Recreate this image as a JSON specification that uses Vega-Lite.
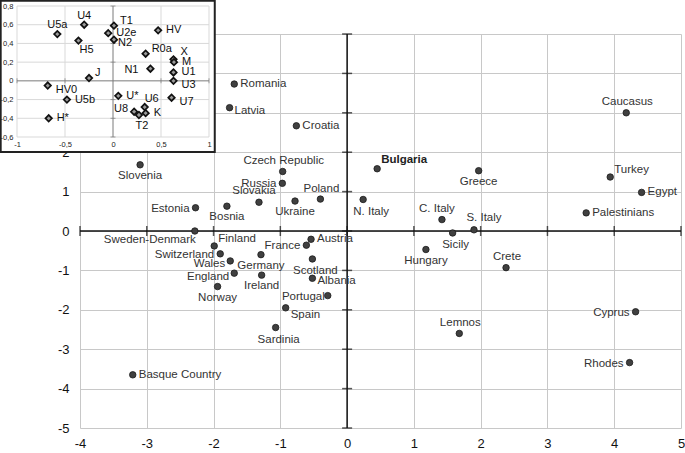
{
  "$schema": "https://vega.github.io/schema/vega-lite/v6.json",
  "width": 601,
  "height": 394,
  "autosize": {"type": "none"},
  "padding": {"left": 80, "top": 34, "right": 4, "bottom": 25},
  "background": "white",
  "config": {"view": {"stroke": null}, "font": "Liberation Sans", "axis": {"labelOverlap": false, "labelFlush": false}},
  "datasets": {
    "main": [
      {"name": "Romania", "x": -1.69, "y": 3.73},
      {"name": "Latvia", "x": -1.76, "y": 3.13},
      {"name": "Croatia", "x": -0.76, "y": 2.67},
      {"name": "Caucasus", "x": 4.18, "y": 3.0},
      {"name": "Slovenia", "x": -3.1, "y": 1.68},
      {"name": "Czech Republic", "x": -0.965, "y": 1.51},
      {"name": "Russia", "x": -0.97, "y": 1.21},
      {"name": "Bulgaria", "x": 0.45, "y": 1.58},
      {"name": "Greece", "x": 1.97, "y": 1.53},
      {"name": "Turkey", "x": 3.94, "y": 1.37},
      {"name": "Egypt", "x": 4.41, "y": 0.98},
      {"name": "Palestinians", "x": 3.58, "y": 0.46},
      {"name": "Estonia", "x": -2.27, "y": 0.59},
      {"name": "Bosnia", "x": -1.8, "y": 0.63},
      {"name": "Slovakia", "x": -1.32, "y": 0.73},
      {"name": "Ukraine", "x": -0.78, "y": 0.76},
      {"name": "Poland", "x": -0.4, "y": 0.81},
      {"name": "N. Italy", "x": 0.24, "y": 0.8},
      {"name": "C. Italy", "x": 1.42, "y": 0.29},
      {"name": "S. Italy", "x": 1.9, "y": 0.03},
      {"name": "Sicily", "x": 1.58, "y": -0.05},
      {"name": "Sweden-Denmark", "x": -2.28, "y": 0.0},
      {"name": "Finland", "x": -1.99, "y": -0.38},
      {"name": "Switzerland", "x": -1.9, "y": -0.58},
      {"name": "Wales", "x": -1.75, "y": -0.76},
      {"name": "England", "x": -1.69, "y": -1.07},
      {"name": "Norway", "x": -1.94, "y": -1.41},
      {"name": "Germany", "x": -1.29, "y": -0.6},
      {"name": "Ireland", "x": -1.28, "y": -1.12},
      {"name": "France", "x": -0.61, "y": -0.36},
      {"name": "Austria", "x": -0.54, "y": -0.21},
      {"name": "Scotland", "x": -0.52, "y": -0.71},
      {"name": "Albania", "x": -0.52, "y": -1.2},
      {"name": "Portugal", "x": -0.29, "y": -1.64},
      {"name": "Spain", "x": -0.92, "y": -1.95},
      {"name": "Sardinia", "x": -1.07, "y": -2.45},
      {"name": "Basque Country", "x": -3.21, "y": -3.65},
      {"name": "Hungary", "x": 1.18, "y": -0.47},
      {"name": "Crete", "x": 2.38, "y": -0.93},
      {"name": "Lemnos", "x": 1.68, "y": -2.6},
      {"name": "Cyprus", "x": 4.32, "y": -2.05},
      {"name": "Rhodes", "x": 4.23, "y": -3.34}
    ],
    "inset": [
      {"name": "U5a", "x": -0.58, "y": 0.5},
      {"name": "U4", "x": -0.3, "y": 0.6},
      {"name": "H5", "x": -0.36, "y": 0.43},
      {"name": "T1", "x": 0.01, "y": 0.59},
      {"name": "U2e", "x": -0.05, "y": 0.51},
      {"name": "N2", "x": 0.01, "y": 0.44},
      {"name": "HV", "x": 0.47, "y": 0.54},
      {"name": "R0a", "x": 0.34, "y": 0.29},
      {"name": "X", "x": 0.63, "y": 0.23},
      {"name": "M", "x": 0.635, "y": 0.2},
      {"name": "N1", "x": 0.39, "y": 0.13},
      {"name": "U1", "x": 0.63, "y": 0.09},
      {"name": "U3", "x": 0.63, "y": 0.0},
      {"name": "U7", "x": 0.61, "y": -0.18},
      {"name": "J", "x": -0.25, "y": 0.03},
      {"name": "HV0", "x": -0.68, "y": -0.05},
      {"name": "U5b", "x": -0.48, "y": -0.2},
      {"name": "H*", "x": -0.67, "y": -0.4},
      {"name": "U*", "x": 0.055, "y": -0.16},
      {"name": "U6", "x": 0.33, "y": -0.28},
      {"name": "U8", "x": 0.22, "y": -0.33},
      {"name": "T2", "x": 0.27, "y": -0.365},
      {"name": "K", "x": 0.34, "y": -0.345}
    ],
    "xt": [{"v": -4}, {"v": -3}, {"v": -2}, {"v": -1}, {"v": 0}, {"v": 1}, {"v": 2}, {"v": 3}, {"v": 4}, {"v": 5}],
    "yt": [{"v": -5}, {"v": -4}, {"v": -3}, {"v": -2}, {"v": -1}, {"v": 0}, {"v": 1}, {"v": 2}, {"v": 3}, {"v": 4}, {"v": 5}],
    "igx": [{"v": -1}, {"v": -0.5}, {"v": 0.5}, {"v": 1}],
    "igy": [{"v": -0.6}, {"v": -0.4}, {"v": -0.2}, {"v": 0.2}, {"v": 0.4}, {"v": 0.6}, {"v": 0.8}],
    "frame": [{"x1": -1.17, "x2": 1.06, "y1": -0.76, "y2": 0.855}],
    "one": [{}]
  },
  "layer": [
    {
      "layer": [
        {
          "data": {"name": "one"},
          "mark": {"type": "rule", "color": "#111", "strokeWidth": 1.5},
          "encoding": {
            "x": {"datum": 0, "type": "quantitative", "title": null,
              "scale": {"domain": [-4, 5], "nice": false, "zero": false},
              "axis": {"orient": "bottom", "values": [-4, -3, -2, -1, 0, 1, 2, 3, 4, 5], "tickCount": 20, "grid": true, "gridColor": "#c8c8c8", "gridWidth": 1, "domain": false, "ticks": false, "labelFontSize": 13, "labelColor": "#111", "labelPadding": 9, "labelFlush": false, "labelOverlap": false, "labelExpr": "'' + datum.value", "title": null, "zindex": 0}}
          }
        },
        {
          "data": {"name": "one"},
          "mark": {"type": "rule", "color": "#111", "strokeWidth": 1.5},
          "encoding": {
            "y": {"datum": 0, "type": "quantitative", "title": null,
              "scale": {"domain": [-5, 5], "nice": false, "zero": false},
              "axis": {"orient": "left", "values": [-5, -4, -3, -2, -1, 0, 1, 2, 3, 4, 5], "tickCount": 20, "grid": true, "gridColor": "#c8c8c8", "gridWidth": 1, "domain": false, "ticks": false, "labelFontSize": 13, "labelColor": "#111", "labelPadding": 11, "labelFlush": false, "labelOverlap": false, "labelExpr": "'' + datum.value", "title": null, "zindex": 0}}
          }
        },
        {
          "data": {"name": "xt"},
          "mark": {"type": "tick", "orient": "vertical", "color": "#111", "size": 10, "thickness": 1.5},
          "encoding": {
            "x": {"field": "v", "type": "quantitative", "title": null},
            "y": {"datum": 0, "type": "quantitative", "title": null}
          }
        },
        {
          "data": {"name": "yt"},
          "mark": {"type": "tick", "orient": "horizontal", "color": "#111", "size": 10, "thickness": 1.5},
          "encoding": {
            "y": {"field": "v", "type": "quantitative", "title": null},
            "x": {"datum": 0, "type": "quantitative", "title": null}
          }
        },
        {
          "data": {"name": "main"},
          "mark": {"type": "circle", "size": 42, "color": "#404040", "stroke": "#1a1a1a", "strokeWidth": 0.8, "opacity": 1},
          "encoding": {
            "x": {"field": "x", "type": "quantitative", "title": null},
            "y": {"field": "y", "type": "quantitative", "title": null}
          }
        },
        {
          "data": {"name": "main"},
          "transform": [{"filter": {"field": "name", "oneOf": ["Romania", "Croatia", "Basque Country", "Egypt", "Palestinians", "Austria"]}}],
          "mark": {"type": "text", "align": "left", "baseline": "middle", "dx": 6, "dy": 0, "fontSize": 11.5, "color": "#333"},
          "encoding": {"x": {"field": "x", "type": "quantitative", "title": null}, "y": {"field": "y", "type": "quantitative", "title": null}, "text": {"field": "name"}}
        },
        {
          "data": {"name": "main"},
          "transform": [{"filter": {"field": "name", "oneOf": ["Latvia", "Albania"]}}],
          "mark": {"type": "text", "align": "left", "baseline": "middle", "dx": 5, "dy": 3, "fontSize": 11.5, "color": "#333"},
          "encoding": {"x": {"field": "x", "type": "quantitative", "title": null}, "y": {"field": "y", "type": "quantitative", "title": null}, "text": {"field": "name"}}
        },
        {
          "data": {"name": "main"},
          "transform": [{"filter": {"field": "name", "oneOf": ["Turkey", "Finland"]}}],
          "mark": {"type": "text", "align": "left", "baseline": "middle", "dx": 4, "dy": -7, "fontSize": 11.5, "color": "#333"},
          "encoding": {"x": {"field": "x", "type": "quantitative", "title": null}, "y": {"field": "y", "type": "quantitative", "title": null}, "text": {"field": "name"}}
        },
        {
          "data": {"name": "main"},
          "transform": [{"filter": {"field": "name", "oneOf": ["Bulgaria"]}}],
          "mark": {"type": "text", "align": "left", "baseline": "middle", "dx": 4, "dy": -9, "fontSize": 11.5, "fontWeight": "bold", "color": "#222"},
          "encoding": {"x": {"field": "x", "type": "quantitative", "title": null}, "y": {"field": "y", "type": "quantitative", "title": null}, "text": {"field": "name"}}
        },
        {
          "data": {"name": "main"},
          "transform": [{"filter": {"field": "name", "oneOf": ["Estonia", "Russia", "Switzerland", "France", "Cyprus", "Rhodes"]}}],
          "mark": {"type": "text", "align": "right", "baseline": "middle", "dx": -6, "dy": 1, "fontSize": 11.5, "color": "#333"},
          "encoding": {"x": {"field": "x", "type": "quantitative", "title": null}, "y": {"field": "y", "type": "quantitative", "title": null}, "text": {"field": "name"}}
        },
        {
          "data": {"name": "main"},
          "transform": [{"filter": {"field": "name", "oneOf": ["Wales", "England"]}}],
          "mark": {"type": "text", "align": "right", "baseline": "middle", "dx": -5, "dy": 3.5, "fontSize": 11.5, "color": "#333"},
          "encoding": {"x": {"field": "x", "type": "quantitative", "title": null}, "y": {"field": "y", "type": "quantitative", "title": null}, "text": {"field": "name"}}
        },
        {
          "data": {"name": "main"},
          "transform": [{"filter": {"field": "name", "oneOf": ["Portugal"]}}],
          "mark": {"type": "text", "align": "right", "baseline": "middle", "dx": -3, "dy": 1, "fontSize": 11.5, "color": "#333"},
          "encoding": {"x": {"field": "x", "type": "quantitative", "title": null}, "y": {"field": "y", "type": "quantitative", "title": null}, "text": {"field": "name"}}
        },
        {
          "data": {"name": "main"},
          "transform": [{"filter": {"field": "name", "oneOf": ["Czech Republic", "Poland", "Caucasus", "Crete", "Lemnos"]}}],
          "mark": {"type": "text", "align": "center", "baseline": "middle", "dx": 1, "dy": -10.5, "fontSize": 11.5, "color": "#333"},
          "encoding": {"x": {"field": "x", "type": "quantitative", "title": null}, "y": {"field": "y", "type": "quantitative", "title": null}, "text": {"field": "name"}}
        },
        {
          "data": {"name": "main"},
          "transform": [{"filter": {"field": "name", "oneOf": ["Slovakia", "C. Italy"]}}],
          "mark": {"type": "text", "align": "center", "baseline": "middle", "dx": -5, "dy": -11, "fontSize": 11.5, "color": "#333"},
          "encoding": {"x": {"field": "x", "type": "quantitative", "title": null}, "y": {"field": "y", "type": "quantitative", "title": null}, "text": {"field": "name"}}
        },
        {
          "data": {"name": "main"},
          "transform": [{"filter": {"field": "name", "oneOf": ["S. Italy"]}}],
          "mark": {"type": "text", "align": "center", "baseline": "middle", "dx": 10, "dy": -12, "fontSize": 11.5, "color": "#333"},
          "encoding": {"x": {"field": "x", "type": "quantitative", "title": null}, "y": {"field": "y", "type": "quantitative", "title": null}, "text": {"field": "name"}}
        },
        {
          "data": {"name": "main"},
          "transform": [{"filter": {"field": "name", "oneOf": ["Slovenia", "Bosnia", "Ukraine", "Norway", "Germany", "Ireland", "Greece", "Hungary"]}}],
          "mark": {"type": "text", "align": "center", "baseline": "middle", "dx": 0, "dy": 11, "fontSize": 11.5, "color": "#333"},
          "encoding": {"x": {"field": "x", "type": "quantitative", "title": null}, "y": {"field": "y", "type": "quantitative", "title": null}, "text": {"field": "name"}}
        },
        {
          "data": {"name": "main"},
          "transform": [{"filter": {"field": "name", "oneOf": ["Scotland", "Sardinia", "Sicily"]}}],
          "mark": {"type": "text", "align": "center", "baseline": "middle", "dx": 3, "dy": 12, "fontSize": 11.5, "color": "#333"},
          "encoding": {"x": {"field": "x", "type": "quantitative", "title": null}, "y": {"field": "y", "type": "quantitative", "title": null}, "text": {"field": "name"}}
        },
        {
          "data": {"name": "main"},
          "transform": [{"filter": {"field": "name", "oneOf": ["N. Italy"]}}],
          "mark": {"type": "text", "align": "center", "baseline": "middle", "dx": 8, "dy": 13, "fontSize": 11.5, "color": "#333"},
          "encoding": {"x": {"field": "x", "type": "quantitative", "title": null}, "y": {"field": "y", "type": "quantitative", "title": null}, "text": {"field": "name"}}
        },
        {
          "data": {"name": "main"},
          "transform": [{"filter": {"field": "name", "oneOf": ["Spain"]}}],
          "mark": {"type": "text", "align": "left", "baseline": "middle", "dx": 5, "dy": 7, "fontSize": 11.5, "color": "#333"},
          "encoding": {"x": {"field": "x", "type": "quantitative", "title": null}, "y": {"field": "y", "type": "quantitative", "title": null}, "text": {"field": "name"}}
        },
        {
          "data": {"name": "main"},
          "transform": [{"filter": {"field": "name", "oneOf": ["Sweden-Denmark"]}}],
          "mark": {"type": "text", "align": "right", "baseline": "middle", "dx": 1, "dy": 9, "fontSize": 11.5, "color": "#333"},
          "encoding": {"x": {"field": "x", "type": "quantitative", "title": null}, "y": {"field": "y", "type": "quantitative", "title": null}, "text": {"field": "name"}}
        }
      ]
    },
    {
      "layer": [
        {
          "data": {"name": "frame"},
          "mark": {"type": "rect", "fill": "white", "stroke": "#222", "strokeWidth": 2},
          "encoding": {
            "x": {"field": "x1", "type": "quantitative", "title": null,
              "scale": {"domain": [-1, 1], "range": [-63, 129], "nice": false, "zero": false},
              "axis": {"orient": "bottom", "offset": -291, "values": [-1, -0.5, 0, 0.5, 1], "tickCount": 20, "grid": false, "domain": false, "ticks": false, "labelFontSize": 7.5, "labelColor": "#222", "labelPadding": 3, "labelFlush": false, "labelOverlap": false, "labelExpr": "replace('' + datum.value, '.', ',')", "title": null, "zindex": 1}},
            "x2": {"field": "x2"},
            "y": {"field": "y1", "type": "quantitative", "title": null,
              "scale": {"domain": [-0.6, 0.8], "range": [103, -28], "nice": false, "zero": false},
              "axis": {"orient": "left", "offset": 63, "values": [-0.6, -0.4, -0.2, 0, 0.2, 0.4, 0.6, 0.8], "tickCount": 20, "grid": false, "domain": false, "ticks": false, "labelFontSize": 7.5, "labelColor": "#222", "labelPadding": 4, "labelFlush": false, "labelOverlap": false, "labelExpr": "replace('' + datum.value, '.', ',')", "title": null, "zindex": 1}},
            "y2": {"field": "y2"}
          }
        },
        {
          "data": {"name": "igx"},
          "mark": {"type": "rule", "color": "#d9d9d9", "strokeWidth": 1},
          "encoding": {
            "x": {"field": "v", "type": "quantitative", "title": null},
            "y": {"datum": -0.6, "type": "quantitative", "title": null},
            "y2": {"datum": 0.8}
          }
        },
        {
          "data": {"name": "igy"},
          "mark": {"type": "rule", "color": "#d9d9d9", "strokeWidth": 1},
          "encoding": {
            "y": {"field": "v", "type": "quantitative", "title": null},
            "x": {"datum": -1, "type": "quantitative", "title": null},
            "x2": {"datum": 1}
          }
        },
        {
          "data": {"name": "one"},
          "mark": {"type": "rule", "color": "#7a7a7a", "strokeWidth": 1},
          "encoding": {
            "x": {"datum": 0, "type": "quantitative", "title": null},
            "y": {"datum": -0.6, "type": "quantitative", "title": null},
            "y2": {"datum": 0.8}
          }
        },
        {
          "data": {"name": "one"},
          "mark": {"type": "rule", "color": "#7a7a7a", "strokeWidth": 1},
          "encoding": {
            "y": {"datum": 0, "type": "quantitative", "title": null},
            "x": {"datum": -1, "type": "quantitative", "title": null},
            "x2": {"datum": 1}
          }
        },
        {
          "data": {"name": "igy"},
          "mark": {"type": "tick", "orient": "horizontal", "color": "#7a7a7a", "size": 5, "thickness": 1},
          "encoding": {
            "y": {"field": "v", "type": "quantitative", "title": null},
            "x": {"datum": 0, "type": "quantitative", "title": null}
          }
        },
        {
          "data": {"name": "igx"},
          "mark": {"type": "tick", "orient": "vertical", "color": "#7a7a7a", "size": 5, "thickness": 1},
          "encoding": {
            "x": {"field": "v", "type": "quantitative", "title": null},
            "y": {"datum": 0, "type": "quantitative", "title": null}
          }
        },
        {
          "data": {"name": "inset"},
          "mark": {"type": "point", "shape": "diamond", "size": 42, "filled": true, "fill": "#9a9a9a", "stroke": "#111", "strokeWidth": 1.7, "opacity": 1},
          "encoding": {
            "x": {"field": "x", "type": "quantitative", "title": null},
            "y": {"field": "y", "type": "quantitative", "title": null}
          }
        },
        {
          "data": {"name": "inset"},
          "transform": [{"filter": {"field": "name", "oneOf": ["U2e", "HV", "M", "U1", "U5b", "H*", "U*", "K"]}}],
          "mark": {"type": "text", "align": "left", "baseline": "middle", "dx": 8, "dy": 0, "fontSize": 11, "color": "#111"},
          "encoding": {"x": {"field": "x", "type": "quantitative", "title": null}, "y": {"field": "y", "type": "quantitative", "title": null}, "text": {"field": "name"}}
        },
        {
          "data": {"name": "inset"},
          "transform": [{"filter": {"field": "name", "oneOf": ["U3", "U7", "HV0"]}}],
          "mark": {"type": "text", "align": "left", "baseline": "middle", "dx": 8, "dy": 4, "fontSize": 11, "color": "#111"},
          "encoding": {"x": {"field": "x", "type": "quantitative", "title": null}, "y": {"field": "y", "type": "quantitative", "title": null}, "text": {"field": "name"}}
        },
        {
          "data": {"name": "inset"},
          "transform": [{"filter": {"field": "name", "oneOf": ["N2"]}}],
          "mark": {"type": "text", "align": "left", "baseline": "middle", "dx": 4, "dy": 3, "fontSize": 11, "color": "#111"},
          "encoding": {"x": {"field": "x", "type": "quantitative", "title": null}, "y": {"field": "y", "type": "quantitative", "title": null}, "text": {"field": "name"}}
        },
        {
          "data": {"name": "inset"},
          "transform": [{"filter": {"field": "name", "oneOf": ["T1", "J", "R0a"]}}],
          "mark": {"type": "text", "align": "left", "baseline": "middle", "dx": 6, "dy": -5, "fontSize": 11, "color": "#111"},
          "encoding": {"x": {"field": "x", "type": "quantitative", "title": null}, "y": {"field": "y", "type": "quantitative", "title": null}, "text": {"field": "name"}}
        },
        {
          "data": {"name": "inset"},
          "transform": [{"filter": {"field": "name", "oneOf": ["X"]}}],
          "mark": {"type": "text", "align": "left", "baseline": "middle", "dx": 7, "dy": -7, "fontSize": 11, "color": "#111"},
          "encoding": {"x": {"field": "x", "type": "quantitative", "title": null}, "y": {"field": "y", "type": "quantitative", "title": null}, "text": {"field": "name"}}
        },
        {
          "data": {"name": "inset"},
          "transform": [{"filter": {"field": "name", "oneOf": ["U5a", "U4"]}}],
          "mark": {"type": "text", "align": "center", "baseline": "middle", "dx": 0, "dy": -9, "fontSize": 11, "color": "#111"},
          "encoding": {"x": {"field": "x", "type": "quantitative", "title": null}, "y": {"field": "y", "type": "quantitative", "title": null}, "text": {"field": "name"}}
        },
        {
          "data": {"name": "inset"},
          "transform": [{"filter": {"field": "name", "oneOf": ["U6"]}}],
          "mark": {"type": "text", "align": "left", "baseline": "middle", "dx": 0, "dy": -8, "fontSize": 11, "color": "#111"},
          "encoding": {"x": {"field": "x", "type": "quantitative", "title": null}, "y": {"field": "y", "type": "quantitative", "title": null}, "text": {"field": "name"}}
        },
        {
          "data": {"name": "inset"},
          "transform": [{"filter": {"field": "name", "oneOf": ["H5"]}}],
          "mark": {"type": "text", "align": "left", "baseline": "middle", "dx": 1, "dy": 9, "fontSize": 11, "color": "#111"},
          "encoding": {"x": {"field": "x", "type": "quantitative", "title": null}, "y": {"field": "y", "type": "quantitative", "title": null}, "text": {"field": "name"}}
        },
        {
          "data": {"name": "inset"},
          "transform": [{"filter": {"field": "name", "oneOf": ["U8"]}}],
          "mark": {"type": "text", "align": "right", "baseline": "middle", "dx": -6, "dy": -3, "fontSize": 11, "color": "#111"},
          "encoding": {"x": {"field": "x", "type": "quantitative", "title": null}, "y": {"field": "y", "type": "quantitative", "title": null}, "text": {"field": "name"}}
        },
        {
          "data": {"name": "inset"},
          "transform": [{"filter": {"field": "name", "oneOf": ["N1"]}}],
          "mark": {"type": "text", "align": "right", "baseline": "middle", "dx": -12, "dy": 1, "fontSize": 11, "color": "#111"},
          "encoding": {"x": {"field": "x", "type": "quantitative", "title": null}, "y": {"field": "y", "type": "quantitative", "title": null}, "text": {"field": "name"}}
        },
        {
          "data": {"name": "inset"},
          "transform": [{"filter": {"field": "name", "oneOf": ["T2"]}}],
          "mark": {"type": "text", "align": "center", "baseline": "middle", "dx": 3, "dy": 11, "fontSize": 11, "color": "#111"},
          "encoding": {"x": {"field": "x", "type": "quantitative", "title": null}, "y": {"field": "y", "type": "quantitative", "title": null}, "text": {"field": "name"}}
        }
      ]
    }
  ],
  "resolve": {"scale": {"x": "independent", "y": "independent"}, "axis": {"x": "independent", "y": "independent"}}
}
